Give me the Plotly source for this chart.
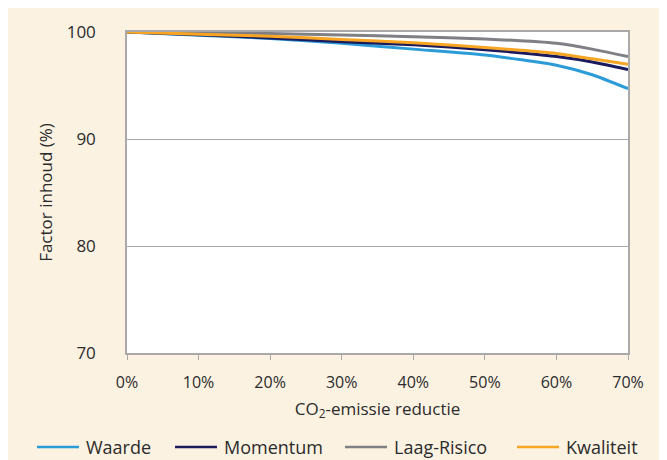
import plotly.graph_objects as go

reductie = [0, 10, 20, 30, 40, 50, 60, 65, 70]
waarde = [100.0, 99.7, 99.4, 98.95, 98.4, 97.85, 96.9, 96.0, 94.7]
momentum = [100.0, 99.75, 99.45, 99.1, 98.8, 98.35, 97.7, 97.2, 96.5]
laag_risico = [100.0, 99.93, 99.85, 99.72, 99.56, 99.35, 98.94, 98.4, 97.7]
kwaliteit = [100.0, 99.8, 99.6, 99.3, 99.0, 98.55, 98.0, 97.5, 96.98]

series_names = ["Waarde", "Momentum", "Laag-Risico", "Kwaliteit"]
series_values = [waarde, momentum, laag_risico, kwaliteit]
series_colors = ["#2B9CD8", "#1A1A5C", "#7F7F84", "#F7A523"]

x_ticks = [0, 10, 20, 30, 40, 50, 60, 70]
x_ticklabels = ["0%", "10%", "20%", "30%", "40%", "50%", "60%", "70%"]
y_ticks = [70, 80, 90, 100]

FONT = "Open Sans, Roboto, sans-serif"

fig = go.Figure()
for name, vals, col in zip(series_names, series_values, series_colors):
    fig.add_trace(go.Scatter(x=reductie, y=vals, name=name, mode="lines",
                             line=dict(color=col, width=3, shape="spline", smoothing=0.6),
                             showlegend=False))

cream = "#FCF2E2"
grid = "#A9A9A9"
W, H = 667, 460
OFF = 8  # page body margin
L, R, T, B = 127 - OFF, W - (628 - OFF), 32 - OFF, H - (353 - OFF)
pw, ph = W - L - R, H - T - B


def px(sx):
    return (sx - OFF - L) / pw


def py(sy):
    return (H - B - (sy - OFF)) / ph


# legend drawn as line samples + labels (positions in screen px of the reference)
leg_line_x = [37, 175, 345, 517]
leg_line_len = 42
leg_y = 447
shapes = []
annotations = []
for name, col, lx in zip(series_names, series_colors, leg_line_x):
    shapes.append(dict(type="line", xref="paper", yref="paper",
                       x0=px(lx), x1=px(lx + leg_line_len), y0=py(leg_y), y1=py(leg_y),
                       line=dict(color=col, width=2.5)))
    annotations.append(dict(text=name, xref="paper", yref="paper", x=px(lx + leg_line_len + 5),
                            y=py(leg_y), xanchor="left", yanchor="middle", showarrow=False,
                            font=dict(family=FONT, size=18, color="#2b2b2b")))

fig.update_layout(
    width=W, height=H,
    margin=dict(l=L, r=R, t=T, b=B),
    paper_bgcolor=cream,
    plot_bgcolor="white",
    font=dict(family=FONT, size=16, color="#2b2b2b"),
    showlegend=False,
    shapes=shapes,
    annotations=annotations,
)

fig.update_xaxes(
    range=[0, 70], tickvals=x_ticks, ticktext=x_ticklabels,
    showline=True, linecolor=grid, linewidth=1.5, mirror=True,
    ticks="outside", ticklen=5, tickcolor=grid, showgrid=False, zeroline=False,
    tickfont=dict(size=16), ticklabelstandoff=9,
    title=dict(text="CO<sub>2</sub>-emissie reductie", font=dict(size=17), standoff=11),
)
fig.update_yaxes(
    range=[70, 100], tickvals=y_ticks,
    showline=True, linecolor=grid, linewidth=1.5, mirror=True,
    ticks="", showgrid=True, gridcolor=grid, gridwidth=1, zeroline=False,
    tickfont=dict(size=17), ticklabelstandoff=26,
    title=dict(text="Factor inhoud (%)", font=dict(size=17), standoff=10),
)

fig.write_html("out.html")
